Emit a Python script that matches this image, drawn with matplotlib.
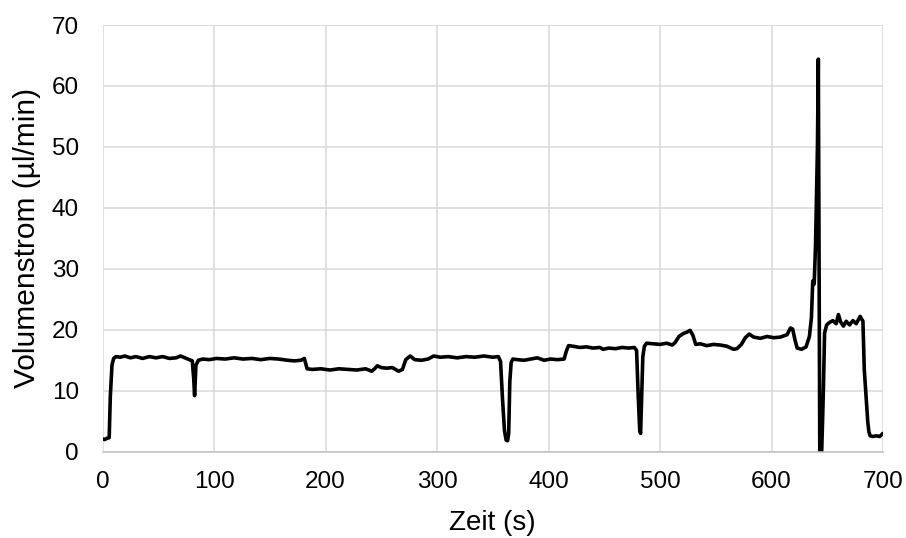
import matplotlib
matplotlib.use("Agg")
import matplotlib.pyplot as plt

# Messreihe: Zeit (s) und Volumenstrom (µl/min)
zeit = [
    0, 2, 4, 6, 7, 8.5, 10, 12, 16, 20, 25, 30, 36, 42, 48, 54, 60, 66, 70, 74, 78,
    80.5, 81.8, 82.6, 83.8, 86, 90, 96, 102, 110, 118, 126, 134, 142, 150, 158, 166, 172,
    178, 181, 183.5, 188, 196, 204, 212, 220, 228, 236, 241.5, 244, 246.5, 250, 255, 260,
    265.5, 269, 272, 276, 280, 286, 292, 297, 303, 310, 318, 326, 334, 342, 350, 355,
    357, 358.8, 360.5, 362, 363.3, 364.3, 365.3, 366.5, 368, 372, 378, 384, 390, 396, 402,
    408, 414, 416, 418, 422, 428, 434, 440, 446, 449, 454, 460, 466, 472, 477, 479,
    480.5, 481.8, 482.6, 483.6, 484.6, 486, 488, 494, 500, 506, 511, 513.5, 517, 521,
    524, 527, 529.5, 532, 536, 542, 548, 554, 560, 566, 569, 573, 576.5, 580, 584, 590,
    596, 602, 608, 614, 617, 619, 621, 623, 627, 631, 634, 635.8, 637, 638.3, 639.5,
    640.3, 641.2, 642, 642.7, 643.3, 645, 645.8, 646.6, 647.6, 649.5, 652, 655, 658, 660,
    662, 664.5, 667, 670, 673, 676, 679.5, 682, 683.2, 684.3, 685.3, 686.3, 687.3, 688.5,
    691, 694, 697, 700,
]
volumenstrom = [
    2.1, 2.0, 2.2, 2.3, 9.0, 14.2, 15.3, 15.6, 15.5, 15.7, 15.4, 15.6, 15.3, 15.6, 15.4,
    15.6, 15.3, 15.4, 15.7, 15.4, 15.1,
    14.9, 12.0, 9.2, 14.2, 15.0, 15.2, 15.1, 15.3, 15.2, 15.4, 15.2, 15.3, 15.1, 15.3,
    15.2, 15.0, 14.9, 15.0, 15.3, 13.6, 13.5, 13.6, 13.4, 13.6, 13.5, 13.4, 13.6, 13.2,
    13.6, 14.1, 13.8, 13.7, 13.8, 13.2, 13.5, 15.1, 15.7, 15.1, 15.0, 15.2, 15.7, 15.5,
    15.6, 15.4, 15.6, 15.5, 15.7, 15.5, 15.6,
    14.8, 8.5, 3.5, 1.9, 1.8, 3.0, 11.5, 14.6, 15.2, 15.1, 15.0, 15.2, 15.4, 15.0, 15.2,
    15.1, 15.2, 16.5, 17.4, 17.3, 17.1, 17.2, 17.0, 17.1, 16.8, 17.0, 16.9, 17.1, 17.0,
    17.1, 16.6,
    9.0, 3.5, 3.0, 9.5, 15.6, 17.3, 17.8, 17.7, 17.6, 17.8, 17.5, 17.9, 18.9, 19.4,
    19.6, 19.9, 19.1, 17.6, 17.7, 17.4, 17.6, 17.5, 17.3, 16.8, 16.9, 17.6, 18.7, 19.3,
    18.8, 18.6, 18.9, 18.7, 18.8, 19.2, 20.3, 20.1, 18.4, 17.0, 16.8, 17.2, 18.9, 22.0,
    28.0, 27.5, 34.0, 41.4, 50.0, 64.4, 30.0, 0.0, 0.0, 5.0, 10.7, 19.5, 20.8, 21.2, 21.5,
    21.0, 22.5, 21.3, 20.6, 21.4, 20.8, 21.5, 21.0, 22.2, 21.4, 13.5, 10.5, 8.0, 5.0, 3.3,
    2.6, 2.5, 2.6, 2.5, 3.0,
]

x_ticks = [0, 100, 200, 300, 400, 500, 600, 700]
y_ticks = [0, 10, 20, 30, 40, 50, 60, 70]

plt.rcParams["font.family"] = ["Liberation Sans", "DejaVu Sans"]

fig = plt.figure(figsize=(9.06, 5.38), dpi=100)
ax = fig.add_axes([102.5 / 906, 1 - 451.7 / 538, 780.5 / 906, 426.7 / 538])

ax.plot(zeit, volumenstrom, color="black", linewidth=2.6,
        solid_joinstyle="round", solid_capstyle="round")

ax.set_xlim(0, 700)
ax.set_ylim(0, 70)
ax.set_xticks(x_ticks)
ax.set_yticks(y_ticks)
ax.grid(True, color="#d9d9d9", linewidth=1.1)
ax.set_axisbelow(True)
for side in ["top", "right", "left"]:
    ax.spines[side].set_visible(False)
ax.spines["bottom"].set_color("#bfbfbf")
ax.spines["bottom"].set_linewidth(1.1)
ax.tick_params(length=0, labelsize=17.5, colors="black")
ax.tick_params(axis="x", pad=14)
ax.tick_params(axis="y", pad=17)

ax.set_xlabel("Zeit (s)", fontsize=20, labelpad=12)
ax.set_ylabel("Volumenstrom (µl/min)", fontsize=21.5, labelpad=8)

fig.savefig("out.png", dpi=100)
